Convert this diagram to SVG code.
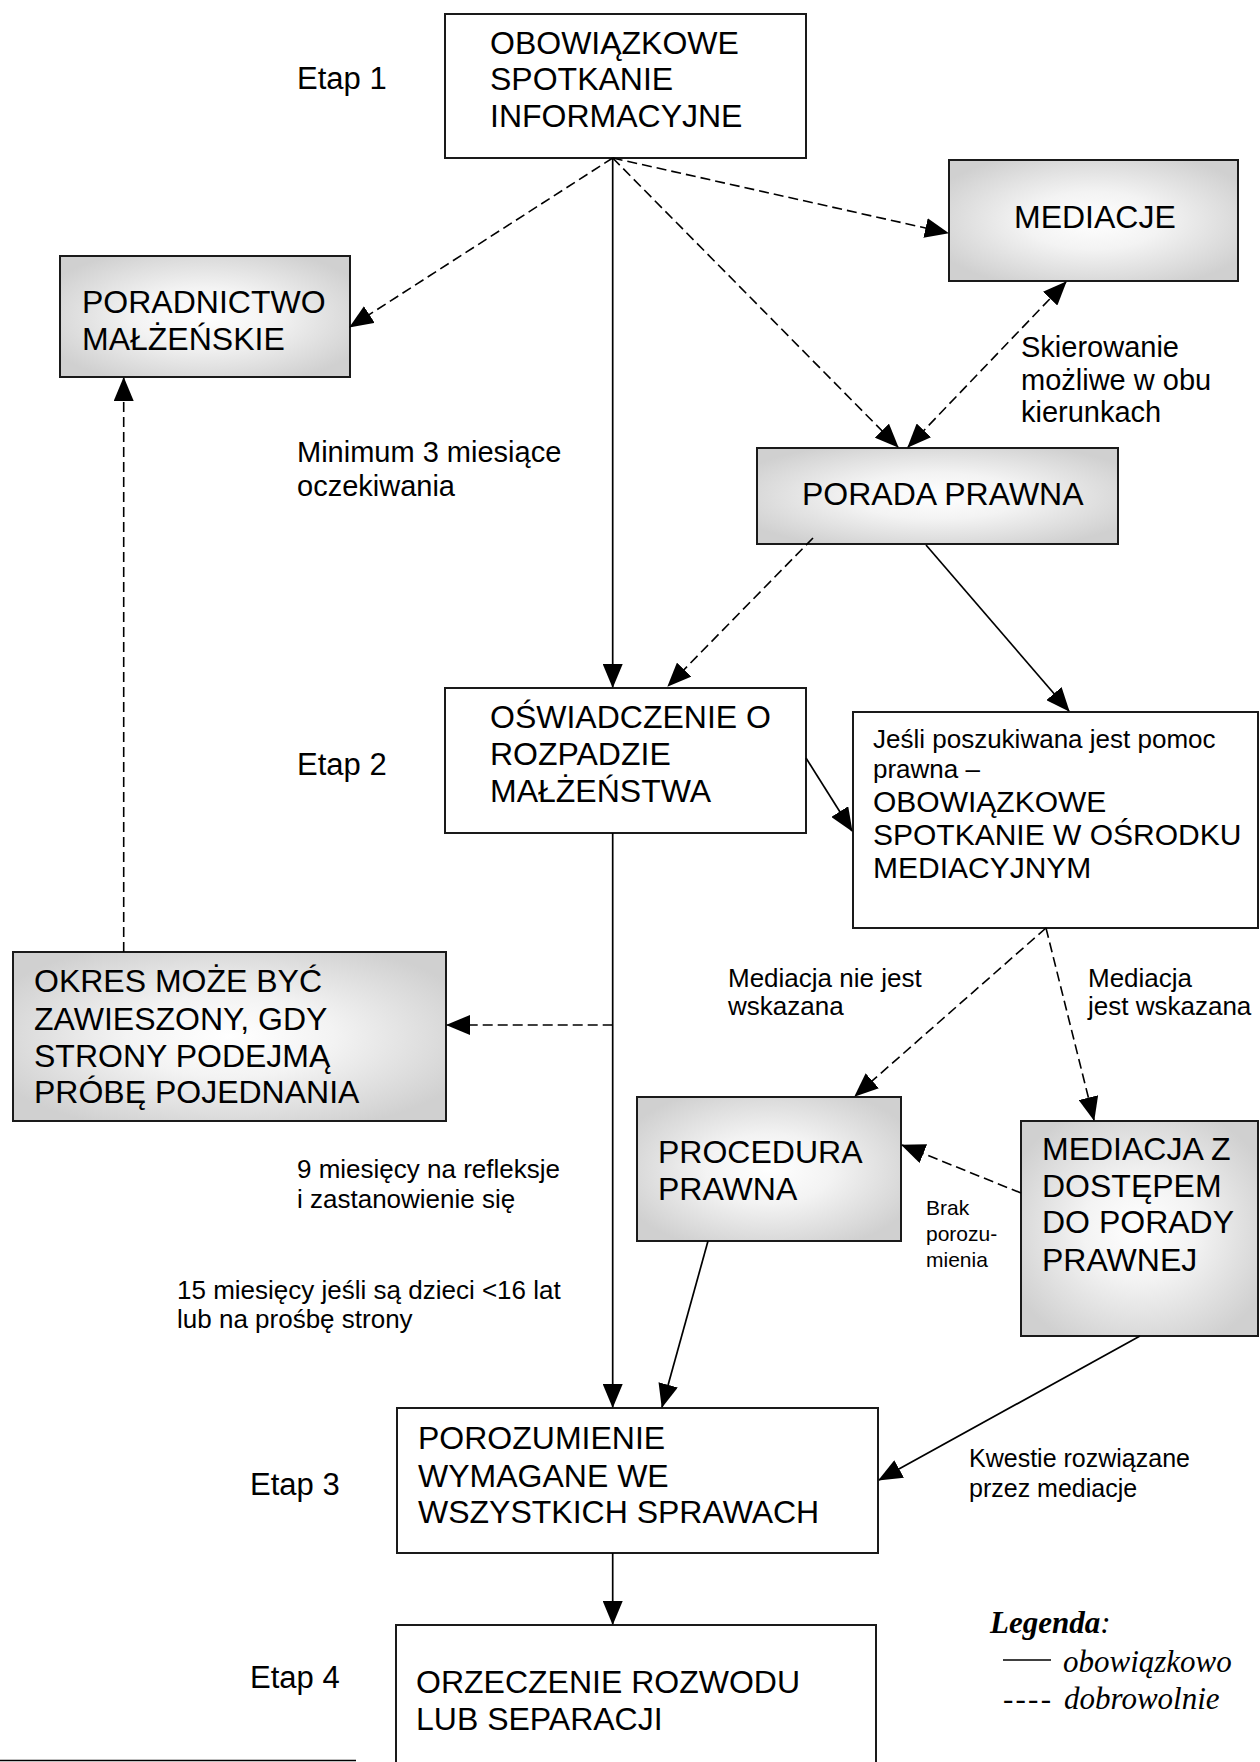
<svg xmlns="http://www.w3.org/2000/svg" width="1260" height="1762" viewBox="0 0 1260 1762">
<style>
text{font-family:"Liberation Sans",Arial,sans-serif;fill:#000}
.box{stroke:#1a1a1a;stroke-width:2}
.w{fill:#fff}
.g{fill:url(#grad)}
.b{font-size:32px}
.b30{font-size:30px}
.l29{font-size:29px}
.l26{font-size:26px}
.l25{font-size:25px}
.l21{font-size:21px}
.etap{font-size:31px}
.sol{fill:none;stroke:#000;stroke-width:1.7;marker-end:url(#ah)}
.das{fill:none;stroke:#000;stroke-width:1.6;stroke-dasharray:10 5;marker-end:url(#ah)}
.leg{font-family:"Liberation Serif","Times New Roman",serif;font-style:italic;font-size:31px}
</style>
<defs>
<radialGradient id="grad" cx="0.5" cy="0.5" r="0.6">
<stop offset="0" stop-color="#ffffff"/>
<stop offset="0.4" stop-color="#f3f3f3"/>
<stop offset="1" stop-color="#d0d0d0"/>
</radialGradient>
<marker id="ah" markerUnits="userSpaceOnUse" markerWidth="24" markerHeight="20" viewBox="0 0 24 20" refX="23" refY="10" orient="auto-start-reverse">
<path d="M0,0 L24,10 L0,20 z" fill="#000"/>
</marker>
</defs>

<g id="labels">
<text class="etap" x="297" y="89">Etap 1</text>
<text class="etap" x="297" y="775">Etap 2</text>
<text class="etap" x="250" y="1495">Etap 3</text>
<text class="etap" x="250" y="1688">Etap 4</text>
<text class="l29" x="297" y="462">Minimum 3 miesiące</text>
<text class="l29" x="297" y="496">oczekiwania</text>
<text class="l29" x="1021" y="357">Skierowanie</text>
<text class="l29" x="1021" y="390">możliwe w obu</text>
<text class="l29" x="1021" y="422">kierunkach</text>
<text class="l26" x="297" y="1178">9 miesięcy na refleksje</text>
<text class="l26" x="297" y="1208">i zastanowienie się</text>
<text class="l26" x="177" y="1299">15 miesięcy jeśli są dzieci &lt;16 lat</text>
<text class="l26" x="177" y="1328">lub na prośbę strony</text>
<text class="l26" x="728" y="987">Mediacja nie jest</text>
<text class="l26" x="728" y="1015">wskazana</text>
<text class="l26" x="1088" y="987">Mediacja</text>
<text class="l26" x="1088" y="1015">jest wskazana</text>
<text class="l21" x="926" y="1215">Brak</text>
<text class="l21" x="926" y="1241">porozu-</text>
<text class="l21" x="926" y="1267">mienia</text>
<text class="l25" x="969" y="1467">Kwestie rozwiązane</text>
<text class="l25" x="969" y="1497">przez mediacje</text>
</g>

<g id="n-spotkanie">
<rect class="box w" x="445" y="14" width="361" height="144"/>
<text class="b" x="490" y="54">OBOWIĄZKOWE</text>
<text class="b" x="490" y="90">SPOTKANIE</text>
<text class="b" x="490" y="127">INFORMACYJNE</text>
</g>

<g id="n-poradnictwo">
<rect class="box g" x="60" y="256" width="290" height="121"/>
<text class="b" x="82" y="313">PORADNICTWO</text>
<text class="b" x="82" y="350">MAŁŻEŃSKIE</text>
</g>

<g id="n-mediacje">
<rect class="box g" x="949" y="160" width="289" height="121"/>
<text class="b" x="1014" y="228">MEDIACJE</text>
</g>

<g id="n-porada">
<rect class="box g" x="757" y="448" width="361" height="96"/>
<text class="b" x="802" y="505">PORADA PRAWNA</text>
</g>

<g id="n-oswiadczenie">
<rect class="box w" x="445" y="688" width="361" height="145"/>
<text class="b" x="490" y="728">OŚWIADCZENIE O</text>
<text class="b" x="490" y="765">ROZPADZIE</text>
<text class="b" x="490" y="802">MAŁŻEŃSTWA</text>
</g>

<g id="n-jesli">
<rect class="box w" x="853" y="712" width="405" height="216"/>
<text class="l26" x="873" y="748">Jeśli poszukiwana jest pomoc</text>
<text class="l26" x="873" y="778">prawna –</text>
<text class="b30" x="873" y="812">OBOWIĄZKOWE</text>
<text class="b30" x="873" y="845">SPOTKANIE W OŚRODKU</text>
<text class="b30" x="873" y="878">MEDIACYJNYM</text>
</g>

<g id="n-okres">
<rect class="box g" x="13" y="952" width="433" height="169"/>
<text class="b" x="34" y="992">OKRES MOŻE BYĆ</text>
<text class="b" x="34" y="1030">ZAWIESZONY, GDY</text>
<text class="b" x="34" y="1067">STRONY PODEJMĄ</text>
<text class="b" x="34" y="1103">PRÓBĘ POJEDNANIA</text>
</g>

<g id="n-procedura">
<rect class="box g" x="637" y="1097" width="264" height="144"/>
<text class="b" x="658" y="1163">PROCEDURA</text>
<text class="b" x="658" y="1200">PRAWNA</text>
</g>

<g id="n-mediacjaz">
<rect class="box g" x="1021" y="1121" width="237" height="215"/>
<text class="b" x="1042" y="1160">MEDIACJA Z</text>
<text class="b" x="1042" y="1197">DOSTĘPEM</text>
<text class="b" x="1042" y="1233">DO PORADY</text>
<text class="b" x="1042" y="1271">PRAWNEJ</text>
</g>

<g id="n-porozumienie">
<rect class="box w" x="397" y="1408" width="481" height="145"/>
<text class="b" x="418" y="1449">POROZUMIENIE</text>
<text class="b" x="418" y="1487">WYMAGANE WE</text>
<text class="b" x="418" y="1523">WSZYSTKICH SPRAWACH</text>
</g>

<g id="n-orzeczenie">
<rect class="box w" x="396" y="1625" width="480" height="160"/>
<text class="b" x="416" y="1693">ORZECZENIE ROZWODU</text>
<text class="b" x="416" y="1730">LUB SEPARACJI</text>
</g>

<g id="connectors">
<line class="das" x1="612.7" y1="158" x2="350" y2="327"/>
<line class="das" x1="612.7" y1="158" x2="948" y2="233"/>
<line class="das" x1="612.7" y1="158" x2="898" y2="447"/>
<line class="das" x1="908" y1="447" x2="1066" y2="282" style="marker-start:url(#ah)"/>
<line class="sol" x1="612.7" y1="158" x2="612.7" y2="687"/>
<line class="das" x1="813" y1="538" x2="668" y2="686"/>
<line class="sol" x1="926" y1="545" x2="1069" y2="711"/>
<line class="sol" x1="806" y1="758" x2="852" y2="831"/>
<line class="sol" x1="612.7" y1="833" x2="612.7" y2="1407"/>
<line class="das" x1="612.7" y1="1025" x2="447" y2="1025"/>
<line class="das" x1="123.7" y1="952" x2="123.7" y2="378"/>
<line class="das" x1="1046" y1="928" x2="855" y2="1096"/>
<line class="das" x1="1046" y1="928" x2="1094" y2="1120"/>
<line class="das" x1="1021" y1="1193" x2="902" y2="1145"/>
<line class="sol" x1="708" y1="1241" x2="662" y2="1407"/>
<line class="sol" x1="1140" y1="1336" x2="879" y2="1480"/>
<line class="sol" x1="612.7" y1="1553" x2="612.7" y2="1624"/>
</g>

<g id="legend">
<text class="leg" x="990" y="1633"><tspan font-weight="bold">Legenda</tspan>:</text>
<line x1="1003" y1="1660" x2="1051" y2="1660" stroke="#000" stroke-width="1.6"/>
<text class="leg" x="1063" y="1672">obowiązkowo</text>
<text class="leg" x="1003" y="1709" font-style="normal" textLength="48" lengthAdjust="spacing">----</text>
<text class="leg" x="1064" y="1709">dobrowolnie</text>
</g>

<line id="footnote-rule" x1="0" y1="1760.5" x2="356" y2="1760.5" stroke="#000" stroke-width="1.5"/>
</svg>
